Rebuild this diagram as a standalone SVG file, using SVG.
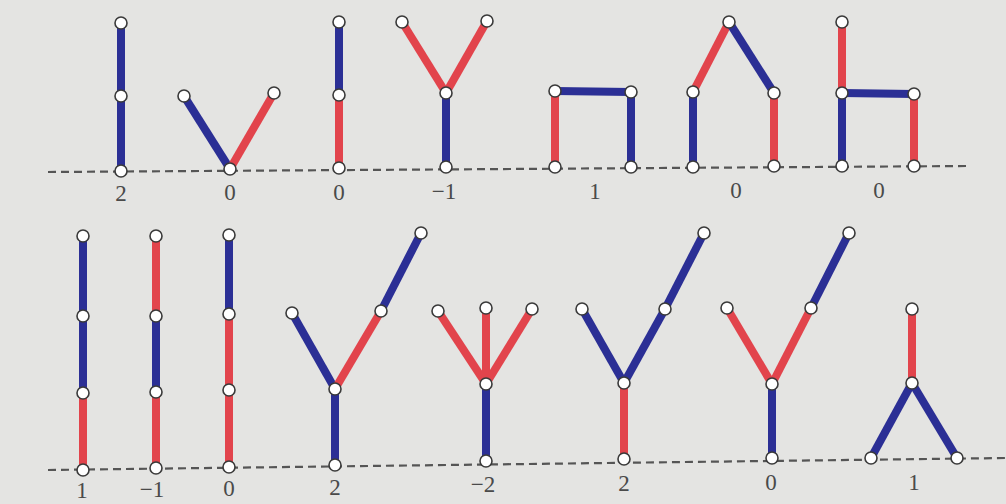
<svg xmlns="http://www.w3.org/2000/svg" width="1006" height="504" viewBox="0 0 1006 504">
<style>
.b{stroke:#2b2f95;stroke-width:8;stroke-linecap:butt;fill:none}
.r{stroke:#e2444c;stroke-width:8;stroke-linecap:butt;fill:none}
.g{stroke:#555;stroke-width:2.2;stroke-dasharray:8 5;fill:none}
.n{fill:#fff;stroke:#3a3a3a;stroke-width:1.6}
.t{font-family:"Liberation Serif",serif;font-size:23px;fill:#4a4a4a;text-anchor:middle}
</style>
<rect width="1006" height="504" fill="#e4e4e2"/>
<g id="ground">
<path class="g" d="M48 172 L968 166"/>
<path class="g" d="M48 470 L1006 458"/>
</g>
<g id="connectors">
<path class="b" d="M121 171 V96 V23"/>
<path class="b" d="M230 169 L184 96"/><path class="r" d="M230 169 L274 93"/>
<path class="r" d="M339 168 V95"/><path class="b" d="M339 95 V22"/>
<path class="b" d="M446 167 V93"/><path class="r" d="M446 93 L402 22"/><path class="r" d="M446 93 L487 21"/>
<path class="r" d="M555 167 V91"/><path class="b" d="M555 91 L631 92"/><path class="b" d="M631 92 V167"/>
<path class="b" d="M693 167 V92"/><path class="r" d="M693 92 L729 22"/><path class="b" d="M729 22 L774 93"/><path class="r" d="M774 93 V166"/>
<path class="b" d="M842 166 V93"/><path class="r" d="M842 93 V22"/><path class="b" d="M842 93 L914 94"/><path class="r" d="M914 94 V166"/>
<path class="r" d="M83 470 V393"/><path class="b" d="M83 393 V316 V236"/>
<path class="r" d="M156 468 V392"/><path class="b" d="M156 392 V316"/><path class="r" d="M156 316 V236"/>
<path class="r" d="M229 467 V390 V314"/><path class="b" d="M229 314 V235"/>
<path class="b" d="M335 465 V389"/><path class="b" d="M335 389 L292 313"/><path class="r" d="M335 389 L381 311"/><path class="b" d="M381 311 L421 233"/>
<path class="b" d="M486 461 V384"/><path class="r" d="M486 384 L438 311"/><path class="r" d="M486 384 V308"/><path class="r" d="M486 384 L532 309"/>
<path class="r" d="M624 459 V383"/><path class="b" d="M624 383 L582 309"/><path class="b" d="M624 383 L665 309"/><path class="b" d="M665 309 L704 233"/>
<path class="b" d="M772 458 V384"/><path class="r" d="M772 384 L727 308"/><path class="r" d="M772 384 L811 308"/><path class="b" d="M811 308 L849 233"/>
<path class="r" d="M912 383 V309"/><path class="b" d="M912 383 L871 458"/><path class="b" d="M912 383 L957 458"/>
</g>
<g id="nodes">
<g id="fig1"><circle class="n" cx="121" cy="171" r="6"/><circle class="n" cx="121" cy="96" r="6"/><circle class="n" cx="121" cy="23" r="6"/></g>
<g id="fig2"><circle class="n" cx="230" cy="169" r="6"/><circle class="n" cx="184" cy="96" r="6"/><circle class="n" cx="274" cy="93" r="6"/></g>
<g id="fig3"><circle class="n" cx="339" cy="168" r="6"/><circle class="n" cx="339" cy="95" r="6"/><circle class="n" cx="339" cy="22" r="6"/></g>
<g id="fig4"><circle class="n" cx="446" cy="167" r="6"/><circle class="n" cx="446" cy="93" r="6"/><circle class="n" cx="402" cy="22" r="6"/><circle class="n" cx="487" cy="21" r="6"/></g>
<g id="fig5"><circle class="n" cx="555" cy="167" r="6"/><circle class="n" cx="555" cy="91" r="6"/><circle class="n" cx="631" cy="92" r="6"/><circle class="n" cx="631" cy="167" r="6"/></g>
<g id="fig6"><circle class="n" cx="693" cy="167" r="6"/><circle class="n" cx="693" cy="92" r="6"/><circle class="n" cx="729" cy="22" r="6"/><circle class="n" cx="774" cy="93" r="6"/><circle class="n" cx="774" cy="166" r="6"/></g>
<g id="fig7"><circle class="n" cx="842" cy="166" r="6"/><circle class="n" cx="842" cy="93" r="6"/><circle class="n" cx="842" cy="22" r="6"/><circle class="n" cx="914" cy="94" r="6"/><circle class="n" cx="914" cy="166" r="6"/></g>
<g id="fig8"><circle class="n" cx="83" cy="470" r="6"/><circle class="n" cx="83" cy="393" r="6"/><circle class="n" cx="83" cy="316" r="6"/><circle class="n" cx="83" cy="236" r="6"/></g>
<g id="fig9"><circle class="n" cx="156" cy="468" r="6"/><circle class="n" cx="156" cy="392" r="6"/><circle class="n" cx="156" cy="316" r="6"/><circle class="n" cx="156" cy="236" r="6"/></g>
<g id="fig10"><circle class="n" cx="229" cy="467" r="6"/><circle class="n" cx="229" cy="390" r="6"/><circle class="n" cx="229" cy="314" r="6"/><circle class="n" cx="229" cy="235" r="6"/></g>
<g id="fig11"><circle class="n" cx="335" cy="465" r="6"/><circle class="n" cx="335" cy="389" r="6"/><circle class="n" cx="292" cy="313" r="6"/><circle class="n" cx="381" cy="311" r="6"/><circle class="n" cx="421" cy="233" r="6"/></g>
<g id="fig12"><circle class="n" cx="486" cy="461" r="6"/><circle class="n" cx="486" cy="384" r="6"/><circle class="n" cx="438" cy="311" r="6"/><circle class="n" cx="486" cy="308" r="6"/><circle class="n" cx="532" cy="309" r="6"/></g>
<g id="fig13"><circle class="n" cx="624" cy="459" r="6"/><circle class="n" cx="624" cy="383" r="6"/><circle class="n" cx="582" cy="309" r="6"/><circle class="n" cx="665" cy="309" r="6"/><circle class="n" cx="704" cy="233" r="6"/></g>
<g id="fig14"><circle class="n" cx="772" cy="458" r="6"/><circle class="n" cx="772" cy="384" r="6"/><circle class="n" cx="727" cy="308" r="6"/><circle class="n" cx="811" cy="308" r="6"/><circle class="n" cx="849" cy="233" r="6"/></g>
<g id="fig15"><circle class="n" cx="912" cy="309" r="6"/><circle class="n" cx="912" cy="383" r="6"/><circle class="n" cx="871" cy="458" r="6"/><circle class="n" cx="957" cy="458" r="6"/></g>
</g>
<g id="labels">
<text class="t" x="121" y="201">2</text>
<text class="t" x="230" y="200">0</text>
<text class="t" x="339" y="200">0</text>
<text class="t" x="444" y="199">−1</text>
<text class="t" x="595" y="199">1</text>
<text class="t" x="736" y="198">0</text>
<text class="t" x="879" y="198">0</text>
<text class="t" x="82" y="498">1</text>
<text class="t" x="152" y="497">−1</text>
<text class="t" x="229" y="496">0</text>
<text class="t" x="335" y="495">2</text>
<text class="t" x="483" y="492">−2</text>
<text class="t" x="624" y="491">2</text>
<text class="t" x="771" y="490">0</text>
<text class="t" x="914" y="490">1</text>
</g>
</svg>
